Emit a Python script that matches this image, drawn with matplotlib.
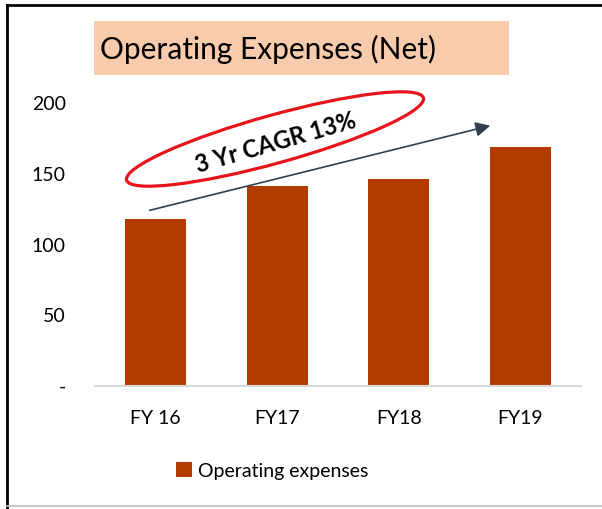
import matplotlib.pyplot as plt
from matplotlib.lines import Line2D
from matplotlib.patches import Ellipse, Rectangle

plt.rcParams["font.family"] = ["Lato", "DejaVu Sans"]

# chart data
years = ["FY 16", "FY17", "FY18", "FY19"]
opex = [118, 141, 146, 169]
yticks = [0, 50, 100, 150, 200]
ytick_labels = ["-", "50", "100", "150", "200"]

BAR_COLOR = "#B23C00"
TITLE_BG = "#F8CBAD"
ARROW_COLOR = "#333F50"

W, H = 602, 509
fig = plt.figure(figsize=(W / 100, H / 100), dpi=100)

# main bar axes (pixel-placed to match the reference layout)
ax = fig.add_axes([95 / W, 1 - 386 / H, (581 - 95) / W, (386 - 103) / H])
x = range(len(years))
bars = ax.bar(x, opex, width=0.5, color=BAR_COLOR, label="Operating expenses")
ax.set_xlim(-0.5, len(years) - 0.5)
ax.set_ylim(0, 200)
ax.set_xticks(list(x))
ax.set_xticklabels(years, fontsize=14)
ax.set_yticks(yticks)
ax.set_yticklabels(ytick_labels, fontsize=14)
ax.tick_params(axis="both", length=0)
ax.tick_params(axis="y", pad=21)
ax.tick_params(axis="x", pad=17)
for side in ("top", "right", "left"):
    ax.spines[side].set_visible(False)
ax.spines["bottom"].set_color("#D9D9D9")
ax.spines["bottom"].set_linewidth(1.5)

ax.legend(
    loc="center",
    bbox_to_anchor=(272 / W, 1 - 471 / H),
    bbox_transform=fig.transFigure,
    frameon=False,
    fontsize=14,
    handlelength=0.8,
    handleheight=0.8,
    handletextpad=0.3,
)

# overlay in pixel coordinates for the decorations
ov = fig.add_axes([0, 0, 1, 1], zorder=5)
ov.set_xlim(0, W)
ov.set_ylim(H, 0)
ov.axis("off")
ov.patch.set_alpha(0)

ov.add_patch(Rectangle((94, 21), 415, 54, facecolor=TITLE_BG, edgecolor="none"))
ov.text(268, 49, "Operating Expenses (Net)", fontsize=21.5, ha="center", va="center")

ov.annotate(
    "",
    xy=(493, 125),
    xytext=(147, 211),
    arrowprops=dict(arrowstyle="-|>", color=ARROW_COLOR, lw=1.2, mutation_scale=22),
)
ov.add_patch(Ellipse((275, 139), 308, 48, angle=-15.5, facecolor="none",
                     edgecolor="#E8141B", lw=2.3))
ov.text(276, 143, "3 Yr CAGR 13%", fontsize=17, fontweight="bold",
        rotation=16, rotation_mode="anchor", ha="center", va="center")

# outer frame
fig.add_artist(Line2D([7 / W, 1], [1 - 5 / H, 1 - 5 / H], color="black", lw=2))
fig.add_artist(Line2D([7 / W, 7 / W], [1 - 5 / H, 0], color="black", lw=2))
fig.add_artist(Line2D([7 / W, 1], [1 - 506 / H, 1 - 506 / H], color="#BFBFBF", lw=1.2))

fig.savefig("out.png", dpi=100)
